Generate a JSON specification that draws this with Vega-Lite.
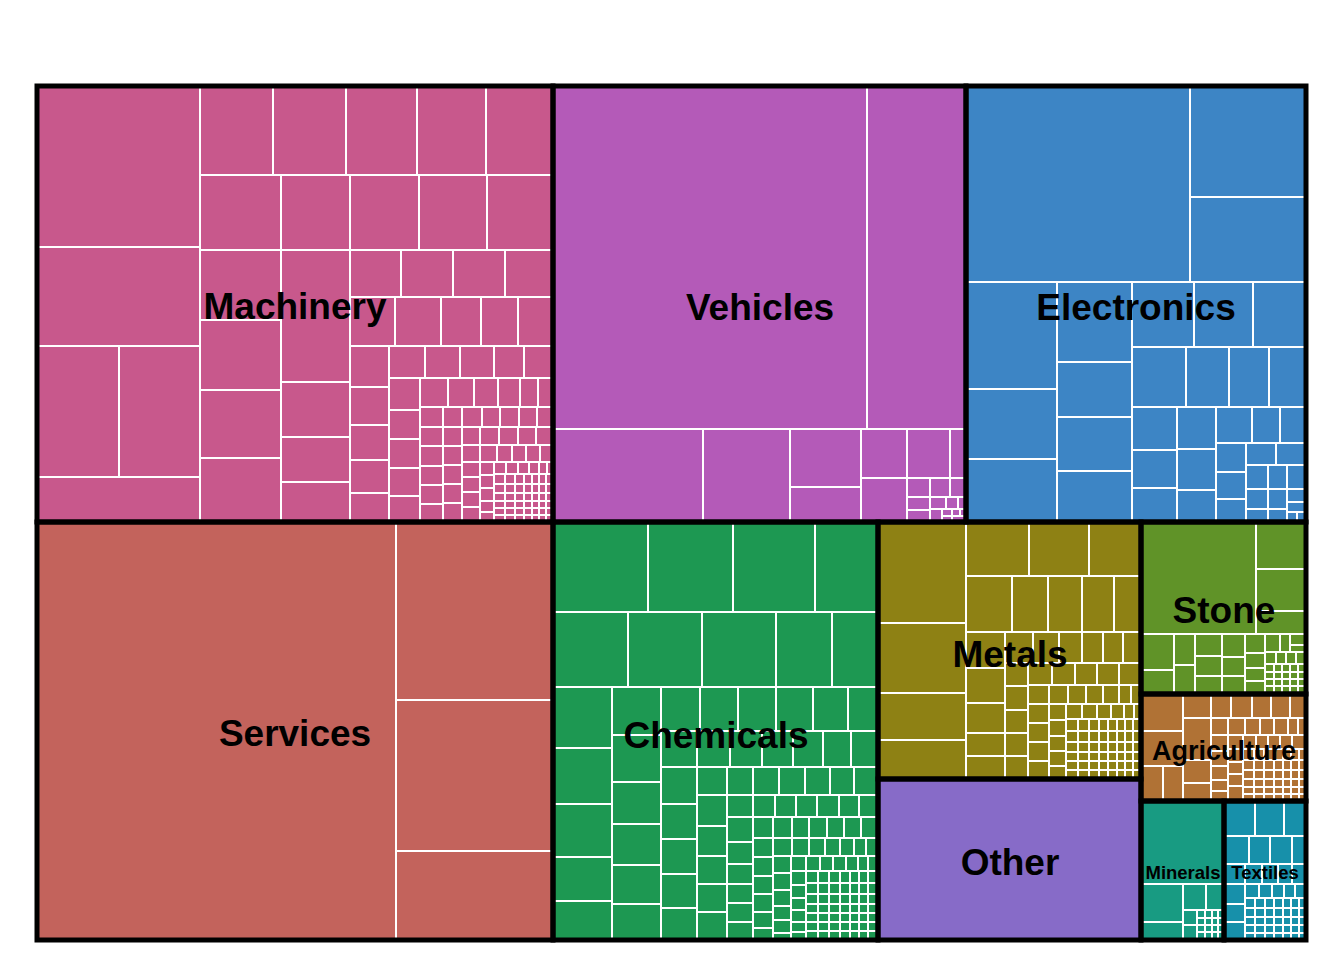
{
"$schema":"https://vega.github.io/schema/vega-lite/v6.json",
"width":1269,"height":854,
"autosize":{"type":"none"},
"padding":{"left":37,"top":86,"right":38,"bottom":20},
"background":"white",
"config":{"view":{"stroke":null}},
"datasets":{
"groups":[
{"name":"Machinery","l":37,"r":553,"t":86,"b":522,"cx":295,"cy":308},
{"name":"Vehicles","l":553,"r":966,"t":86,"b":522,"cx":760,"cy":309},
{"name":"Electronics","l":966,"r":1306,"t":86,"b":522,"cx":1136,"cy":309},
{"name":"Services","l":37,"r":553,"t":522,"b":940,"cx":295,"cy":735},
{"name":"Chemicals","l":553,"r":878,"t":522,"b":940,"cx":716,"cy":737},
{"name":"Metals","l":878,"r":1141,"t":522,"b":779,"cx":1010,"cy":656},
{"name":"Other","l":878,"r":1141,"t":779,"b":940,"cx":1010,"cy":864},
{"name":"Stone","l":1141,"r":1306,"t":522,"b":694,"cx":1224,"cy":612},
{"name":"Agriculture","l":1141,"r":1306,"t":694,"b":801,"cx":1224,"cy":752},
{"name":"Minerals","l":1141,"r":1224,"t":801,"b":940,"cx":1183,"cy":873},
{"name":"Textiles","l":1224,"r":1306,"t":801,"b":940,"cx":1265,"cy":873}
],
"leaves":[
{"g":"Ma","l":37,"r":200,"t":86,"b":247},
{"g":"Ma","l":37,"r":200,"t":247,"b":346},
{"g":"Ma","l":37,"r":119,"t":346,"b":477},
{"g":"Ma","l":119,"r":200,"t":346,"b":477},
{"g":"Ma","l":37,"r":200,"t":477,"b":522},
{"g":"Ma","l":200,"r":273,"t":86,"b":175},
{"g":"Ma","l":273,"r":346,"t":86,"b":175},
{"g":"Ma","l":346,"r":417,"t":86,"b":175},
{"g":"Ma","l":417,"r":486,"t":86,"b":175},
{"g":"Ma","l":486,"r":553,"t":86,"b":175},
{"g":"Ma","l":200,"r":281,"t":175,"b":250},
{"g":"Ma","l":281,"r":350,"t":175,"b":250},
{"g":"Ma","l":350,"r":419,"t":175,"b":250},
{"g":"Ma","l":419,"r":487,"t":175,"b":250},
{"g":"Ma","l":487,"r":553,"t":175,"b":250},
{"g":"Ma","l":200,"r":281,"t":250,"b":320},
{"g":"Ma","l":200,"r":281,"t":320,"b":390},
{"g":"Ma","l":200,"r":281,"t":390,"b":458},
{"g":"Ma","l":200,"r":281,"t":458,"b":522},
{"g":"Ma","l":281,"r":350,"t":250,"b":382},
{"g":"Ma","l":281,"r":350,"t":382,"b":437},
{"g":"Ma","l":281,"r":350,"t":437,"b":482},
{"g":"Ma","l":281,"r":350,"t":482,"b":522},
{"g":"Ma","l":350,"r":401,"t":250,"b":297},
{"g":"Ma","l":401,"r":453,"t":250,"b":297},
{"g":"Ma","l":453,"r":505,"t":250,"b":297},
{"g":"Ma","l":505,"r":553,"t":250,"b":297},
{"g":"Ma","l":350,"r":395,"t":297,"b":346},
{"g":"Ma","l":395,"r":441,"t":297,"b":346},
{"g":"Ma","l":441,"r":481,"t":297,"b":346},
{"g":"Ma","l":481,"r":518,"t":297,"b":346},
{"g":"Ma","l":518,"r":553,"t":297,"b":346},
{"g":"Ma","l":350,"r":389,"t":346,"b":387},
{"g":"Ma","l":350,"r":389,"t":387,"b":425},
{"g":"Ma","l":350,"r":389,"t":425,"b":460},
{"g":"Ma","l":350,"r":389,"t":460,"b":493},
{"g":"Ma","l":350,"r":389,"t":493,"b":522},
{"g":"Ma","l":389,"r":425,"t":346,"b":378},
{"g":"Ma","l":425,"r":460,"t":346,"b":378},
{"g":"Ma","l":460,"r":494,"t":346,"b":378},
{"g":"Ma","l":494,"r":524,"t":346,"b":378},
{"g":"Ma","l":524,"r":553,"t":346,"b":378},
{"g":"Ma","l":389,"r":420,"t":378,"b":410},
{"g":"Ma","l":389,"r":420,"t":410,"b":439},
{"g":"Ma","l":389,"r":420,"t":439,"b":468},
{"g":"Ma","l":389,"r":420,"t":468,"b":496},
{"g":"Ma","l":389,"r":420,"t":496,"b":522},
{"g":"Ma","l":420,"r":448,"t":378,"b":407},
{"g":"Ma","l":448,"r":474,"t":378,"b":407},
{"g":"Ma","l":474,"r":498,"t":378,"b":407},
{"g":"Ma","l":498,"r":520,"t":378,"b":407},
{"g":"Ma","l":520,"r":538,"t":378,"b":407},
{"g":"Ma","l":538,"r":553,"t":378,"b":407},
{"g":"Ma","l":420,"r":443,"t":407,"b":427},
{"g":"Ma","l":420,"r":443,"t":427,"b":446},
{"g":"Ma","l":420,"r":443,"t":446,"b":466},
{"g":"Ma","l":420,"r":443,"t":466,"b":485},
{"g":"Ma","l":420,"r":443,"t":485,"b":504},
{"g":"Ma","l":420,"r":443,"t":504,"b":522},
{"g":"Ma","l":443,"r":462,"t":407,"b":427},
{"g":"Ma","l":462,"r":482,"t":407,"b":427},
{"g":"Ma","l":482,"r":500,"t":407,"b":427},
{"g":"Ma","l":500,"r":519,"t":407,"b":427},
{"g":"Ma","l":519,"r":537,"t":407,"b":427},
{"g":"Ma","l":537,"r":553,"t":407,"b":427},
{"g":"Ma","l":443,"r":462,"t":427,"b":446},
{"g":"Ma","l":443,"r":462,"t":446,"b":465},
{"g":"Ma","l":443,"r":462,"t":465,"b":484},
{"g":"Ma","l":443,"r":462,"t":484,"b":503},
{"g":"Ma","l":443,"r":462,"t":503,"b":522},
{"g":"Ma","l":462,"r":480,"t":427,"b":445},
{"g":"Ma","l":480,"r":499,"t":427,"b":445},
{"g":"Ma","l":499,"r":518,"t":427,"b":445},
{"g":"Ma","l":518,"r":536,"t":427,"b":445},
{"g":"Ma","l":536,"r":553,"t":427,"b":445},
{"g":"Ma","l":462,"r":480,"t":445,"b":462},
{"g":"Ma","l":462,"r":480,"t":462,"b":477},
{"g":"Ma","l":462,"r":480,"t":477,"b":492},
{"g":"Ma","l":462,"r":480,"t":492,"b":507},
{"g":"Ma","l":462,"r":480,"t":507,"b":522},
{"g":"Ma","l":480,"r":497,"t":445,"b":462},
{"g":"Ma","l":497,"r":512,"t":445,"b":462},
{"g":"Ma","l":512,"r":526,"t":445,"b":462},
{"g":"Ma","l":526,"r":540,"t":445,"b":462},
{"g":"Ma","l":540,"r":553,"t":445,"b":462},
{"g":"Ma","l":480,"r":494,"t":462,"b":475},
{"g":"Ma","l":480,"r":494,"t":475,"b":488},
{"g":"Ma","l":480,"r":494,"t":488,"b":501},
{"g":"Ma","l":480,"r":494,"t":501,"b":512},
{"g":"Ma","l":480,"r":494,"t":512,"b":522},
{"g":"Ma","l":494,"r":506,"t":462,"b":474},
{"g":"Ma","l":506,"r":518,"t":462,"b":474},
{"g":"Ma","l":518,"r":529,"t":462,"b":474},
{"g":"Ma","l":529,"r":539,"t":462,"b":474},
{"g":"Ma","l":539,"r":547,"t":462,"b":474},
{"g":"Ma","l":547,"r":553,"t":462,"b":474},
{"g":"Ma","l":494,"r":505,"t":474,"b":484},{"g":"Ma","l":505,"r":515,"t":474,"b":484},{"g":"Ma","l":515,"r":524,"t":474,"b":484},{"g":"Ma","l":524,"r":532,"t":474,"b":484},{"g":"Ma","l":532,"r":539,"t":474,"b":484},{"g":"Ma","l":539,"r":546,"t":474,"b":484},{"g":"Ma","l":546,"r":553,"t":474,"b":484},
{"g":"Ma","l":494,"r":505,"t":484,"b":493},{"g":"Ma","l":505,"r":515,"t":484,"b":493},{"g":"Ma","l":515,"r":524,"t":484,"b":493},{"g":"Ma","l":524,"r":532,"t":484,"b":493},{"g":"Ma","l":532,"r":539,"t":484,"b":493},{"g":"Ma","l":539,"r":546,"t":484,"b":493},{"g":"Ma","l":546,"r":553,"t":484,"b":493},
{"g":"Ma","l":494,"r":505,"t":493,"b":501},{"g":"Ma","l":505,"r":515,"t":493,"b":501},{"g":"Ma","l":515,"r":524,"t":493,"b":501},{"g":"Ma","l":524,"r":532,"t":493,"b":501},{"g":"Ma","l":532,"r":539,"t":493,"b":501},{"g":"Ma","l":539,"r":546,"t":493,"b":501},{"g":"Ma","l":546,"r":553,"t":493,"b":501},
{"g":"Ma","l":494,"r":505,"t":501,"b":508},{"g":"Ma","l":505,"r":515,"t":501,"b":508},{"g":"Ma","l":515,"r":524,"t":501,"b":508},{"g":"Ma","l":524,"r":532,"t":501,"b":508},{"g":"Ma","l":532,"r":539,"t":501,"b":508},{"g":"Ma","l":539,"r":546,"t":501,"b":508},{"g":"Ma","l":546,"r":553,"t":501,"b":508},
{"g":"Ma","l":494,"r":505,"t":508,"b":515},{"g":"Ma","l":505,"r":515,"t":508,"b":515},{"g":"Ma","l":515,"r":524,"t":508,"b":515},{"g":"Ma","l":524,"r":532,"t":508,"b":515},{"g":"Ma","l":532,"r":539,"t":508,"b":515},{"g":"Ma","l":539,"r":546,"t":508,"b":515},{"g":"Ma","l":546,"r":553,"t":508,"b":515},
{"g":"Ma","l":494,"r":505,"t":515,"b":522},{"g":"Ma","l":505,"r":515,"t":515,"b":522},{"g":"Ma","l":515,"r":524,"t":515,"b":522},{"g":"Ma","l":524,"r":532,"t":515,"b":522},{"g":"Ma","l":532,"r":539,"t":515,"b":522},{"g":"Ma","l":539,"r":546,"t":515,"b":522},{"g":"Ma","l":546,"r":553,"t":515,"b":522},
{"g":"Ve","l":553,"r":867,"t":86,"b":429},
{"g":"Ve","l":867,"r":966,"t":86,"b":429},
{"g":"Ve","l":553,"r":703,"t":429,"b":522},
{"g":"Ve","l":703,"r":790,"t":429,"b":522},
{"g":"Ve","l":790,"r":861,"t":429,"b":487},
{"g":"Ve","l":790,"r":861,"t":487,"b":522},
{"g":"Ve","l":861,"r":907,"t":429,"b":478},
{"g":"Ve","l":861,"r":907,"t":478,"b":522},
{"g":"Ve","l":907,"r":950,"t":429,"b":478},
{"g":"Ve","l":950,"r":966,"t":429,"b":478},
{"g":"Ve","l":907,"r":930,"t":478,"b":497},
{"g":"Ve","l":930,"r":950,"t":478,"b":497},
{"g":"Ve","l":950,"r":966,"t":478,"b":497},
{"g":"Ve","l":907,"r":930,"t":497,"b":510},
{"g":"Ve","l":907,"r":930,"t":510,"b":522},
{"g":"Ve","l":930,"r":946,"t":497,"b":509},
{"g":"Ve","l":946,"r":958,"t":497,"b":509},
{"g":"Ve","l":958,"r":966,"t":497,"b":509},
{"g":"Ve","l":930,"r":942,"t":509,"b":522},
{"g":"Ve","l":942,"r":952,"t":509,"b":516},
{"g":"Ve","l":952,"r":960,"t":509,"b":516},
{"g":"Ve","l":960,"r":966,"t":509,"b":516},
{"g":"Ve","l":942,"r":952,"t":516,"b":522},
{"g":"Ve","l":952,"r":966,"t":516,"b":522},
{"g":"El","l":966,"r":1190,"t":86,"b":282},
{"g":"El","l":1190,"r":1306,"t":86,"b":197},
{"g":"El","l":1190,"r":1306,"t":197,"b":282},
{"g":"El","l":966,"r":1057,"t":282,"b":389},
{"g":"El","l":966,"r":1057,"t":389,"b":459},
{"g":"El","l":966,"r":1057,"t":459,"b":522},
{"g":"El","l":1057,"r":1132,"t":282,"b":362},
{"g":"El","l":1057,"r":1132,"t":362,"b":417},
{"g":"El","l":1057,"r":1132,"t":417,"b":471},
{"g":"El","l":1057,"r":1132,"t":471,"b":522},
{"g":"El","l":1132,"r":1194,"t":282,"b":347},
{"g":"El","l":1194,"r":1253,"t":282,"b":347},
{"g":"El","l":1253,"r":1306,"t":282,"b":347},
{"g":"El","l":1132,"r":1186,"t":347,"b":407},
{"g":"El","l":1186,"r":1229,"t":347,"b":407},
{"g":"El","l":1229,"r":1269,"t":347,"b":407},
{"g":"El","l":1269,"r":1306,"t":347,"b":407},
{"g":"El","l":1132,"r":1177,"t":407,"b":450},
{"g":"El","l":1132,"r":1177,"t":450,"b":488},
{"g":"El","l":1132,"r":1177,"t":488,"b":522},
{"g":"El","l":1177,"r":1216,"t":407,"b":449},
{"g":"El","l":1177,"r":1216,"t":449,"b":490},
{"g":"El","l":1177,"r":1216,"t":490,"b":522},
{"g":"El","l":1216,"r":1252,"t":407,"b":443},
{"g":"El","l":1252,"r":1280,"t":407,"b":443},
{"g":"El","l":1280,"r":1306,"t":407,"b":443},
{"g":"El","l":1216,"r":1246,"t":443,"b":472},
{"g":"El","l":1216,"r":1246,"t":472,"b":499},
{"g":"El","l":1216,"r":1246,"t":499,"b":522},
{"g":"El","l":1246,"r":1276,"t":443,"b":465},
{"g":"El","l":1276,"r":1306,"t":443,"b":465},
{"g":"El","l":1246,"r":1268,"t":465,"b":489},
{"g":"El","l":1246,"r":1268,"t":489,"b":509},
{"g":"El","l":1246,"r":1268,"t":509,"b":522},
{"g":"El","l":1268,"r":1287,"t":465,"b":489},
{"g":"El","l":1268,"r":1287,"t":489,"b":509},
{"g":"El","l":1268,"r":1287,"t":509,"b":522},
{"g":"El","l":1287,"r":1306,"t":465,"b":489},
{"g":"El","l":1287,"r":1306,"t":489,"b":502},
{"g":"El","l":1287,"r":1306,"t":502,"b":512},
{"g":"El","l":1287,"r":1297,"t":512,"b":522},
{"g":"El","l":1297,"r":1306,"t":512,"b":522},
{"g":"Se","l":37,"r":396,"t":522,"b":940},
{"g":"Se","l":396,"r":553,"t":522,"b":700},
{"g":"Se","l":396,"r":553,"t":700,"b":851},
{"g":"Se","l":396,"r":553,"t":851,"b":940},
{"g":"Ch","l":553,"r":648,"t":522,"b":612},
{"g":"Ch","l":648,"r":733,"t":522,"b":612},
{"g":"Ch","l":733,"r":815,"t":522,"b":612},
{"g":"Ch","l":815,"r":878,"t":522,"b":612},
{"g":"Ch","l":553,"r":628,"t":612,"b":687},
{"g":"Ch","l":628,"r":702,"t":612,"b":687},
{"g":"Ch","l":702,"r":776,"t":612,"b":687},
{"g":"Ch","l":776,"r":832,"t":612,"b":687},
{"g":"Ch","l":832,"r":878,"t":612,"b":687},
{"g":"Ch","l":553,"r":612,"t":687,"b":748},
{"g":"Ch","l":553,"r":612,"t":748,"b":804},
{"g":"Ch","l":553,"r":612,"t":804,"b":857},
{"g":"Ch","l":553,"r":612,"t":857,"b":901},
{"g":"Ch","l":553,"r":612,"t":901,"b":940},
{"g":"Ch","l":612,"r":661,"t":687,"b":735},
{"g":"Ch","l":612,"r":661,"t":735,"b":782},
{"g":"Ch","l":612,"r":661,"t":782,"b":824},
{"g":"Ch","l":612,"r":661,"t":824,"b":865},
{"g":"Ch","l":612,"r":661,"t":865,"b":904},
{"g":"Ch","l":612,"r":661,"t":904,"b":940},
{"g":"Ch","l":661,"r":700,"t":687,"b":731},
{"g":"Ch","l":700,"r":738,"t":687,"b":731},
{"g":"Ch","l":738,"r":776,"t":687,"b":731},
{"g":"Ch","l":776,"r":813,"t":687,"b":731},
{"g":"Ch","l":813,"r":848,"t":687,"b":731},
{"g":"Ch","l":848,"r":878,"t":687,"b":731},
{"g":"Ch","l":661,"r":697,"t":731,"b":767},
{"g":"Ch","l":697,"r":730,"t":731,"b":767},
{"g":"Ch","l":730,"r":762,"t":731,"b":767},
{"g":"Ch","l":762,"r":793,"t":731,"b":767},
{"g":"Ch","l":793,"r":823,"t":731,"b":767},
{"g":"Ch","l":823,"r":851,"t":731,"b":767},
{"g":"Ch","l":851,"r":878,"t":731,"b":767},
{"g":"Ch","l":661,"r":697,"t":767,"b":804},
{"g":"Ch","l":661,"r":697,"t":804,"b":839},
{"g":"Ch","l":661,"r":697,"t":839,"b":874},
{"g":"Ch","l":661,"r":697,"t":874,"b":908},
{"g":"Ch","l":661,"r":697,"t":908,"b":940},
{"g":"Ch","l":697,"r":727,"t":767,"b":795},
{"g":"Ch","l":727,"r":753,"t":767,"b":795},
{"g":"Ch","l":753,"r":779,"t":767,"b":795},
{"g":"Ch","l":779,"r":805,"t":767,"b":795},
{"g":"Ch","l":805,"r":830,"t":767,"b":795},
{"g":"Ch","l":830,"r":854,"t":767,"b":795},
{"g":"Ch","l":854,"r":878,"t":767,"b":795},
{"g":"Ch","l":697,"r":727,"t":795,"b":826},
{"g":"Ch","l":697,"r":727,"t":826,"b":856},
{"g":"Ch","l":697,"r":727,"t":856,"b":884},
{"g":"Ch","l":697,"r":727,"t":884,"b":912},
{"g":"Ch","l":697,"r":727,"t":912,"b":940},
{"g":"Ch","l":727,"r":753,"t":795,"b":817},
{"g":"Ch","l":753,"r":775,"t":795,"b":817},
{"g":"Ch","l":775,"r":796,"t":795,"b":817},
{"g":"Ch","l":796,"r":817,"t":795,"b":817},
{"g":"Ch","l":817,"r":839,"t":795,"b":817},
{"g":"Ch","l":839,"r":859,"t":795,"b":817},
{"g":"Ch","l":859,"r":878,"t":795,"b":817},
{"g":"Ch","l":727,"r":753,"t":817,"b":842},
{"g":"Ch","l":727,"r":753,"t":842,"b":864},
{"g":"Ch","l":727,"r":753,"t":864,"b":884},
{"g":"Ch","l":727,"r":753,"t":884,"b":903},
{"g":"Ch","l":727,"r":753,"t":903,"b":922},
{"g":"Ch","l":727,"r":753,"t":922,"b":940},
{"g":"Ch","l":753,"r":773,"t":817,"b":838},
{"g":"Ch","l":773,"r":792,"t":817,"b":838},
{"g":"Ch","l":792,"r":809,"t":817,"b":838},
{"g":"Ch","l":809,"r":827,"t":817,"b":838},
{"g":"Ch","l":827,"r":844,"t":817,"b":838},
{"g":"Ch","l":844,"r":861,"t":817,"b":838},
{"g":"Ch","l":861,"r":878,"t":817,"b":838},
{"g":"Ch","l":753,"r":773,"t":838,"b":857},
{"g":"Ch","l":753,"r":773,"t":857,"b":876},
{"g":"Ch","l":753,"r":773,"t":876,"b":894},
{"g":"Ch","l":753,"r":773,"t":894,"b":912},
{"g":"Ch","l":753,"r":773,"t":912,"b":928},
{"g":"Ch","l":753,"r":773,"t":928,"b":940},
{"g":"Ch","l":773,"r":792,"t":838,"b":856},
{"g":"Ch","l":792,"r":809,"t":838,"b":856},
{"g":"Ch","l":809,"r":825,"t":838,"b":856},
{"g":"Ch","l":825,"r":840,"t":838,"b":856},
{"g":"Ch","l":840,"r":854,"t":838,"b":856},
{"g":"Ch","l":854,"r":866,"t":838,"b":856},
{"g":"Ch","l":866,"r":878,"t":838,"b":856},
{"g":"Ch","l":773,"r":791,"t":856,"b":873},
{"g":"Ch","l":773,"r":791,"t":873,"b":890},
{"g":"Ch","l":773,"r":791,"t":890,"b":906},
{"g":"Ch","l":773,"r":791,"t":906,"b":920},
{"g":"Ch","l":773,"r":791,"t":920,"b":933},
{"g":"Ch","l":773,"r":791,"t":933,"b":940},
{"g":"Ch","l":791,"r":806,"t":856,"b":871},
{"g":"Ch","l":806,"r":820,"t":856,"b":871},
{"g":"Ch","l":820,"r":833,"t":856,"b":871},
{"g":"Ch","l":833,"r":846,"t":856,"b":871},
{"g":"Ch","l":846,"r":858,"t":856,"b":871},
{"g":"Ch","l":858,"r":868,"t":856,"b":871},
{"g":"Ch","l":868,"r":878,"t":856,"b":871},
{"g":"Ch","l":791,"r":806,"t":871,"b":885},
{"g":"Ch","l":791,"r":806,"t":885,"b":898},
{"g":"Ch","l":791,"r":806,"t":898,"b":910},
{"g":"Ch","l":791,"r":806,"t":910,"b":922},
{"g":"Ch","l":791,"r":806,"t":922,"b":932},
{"g":"Ch","l":791,"r":806,"t":932,"b":940},
{"g":"Ch","l":806,"r":818,"t":871,"b":883},{"g":"Ch","l":818,"r":829,"t":871,"b":883},{"g":"Ch","l":829,"r":840,"t":871,"b":883},{"g":"Ch","l":840,"r":850,"t":871,"b":883},{"g":"Ch","l":850,"r":859,"t":871,"b":883},{"g":"Ch","l":859,"r":868,"t":871,"b":883},{"g":"Ch","l":868,"r":878,"t":871,"b":883},
{"g":"Ch","l":806,"r":818,"t":883,"b":894},{"g":"Ch","l":818,"r":829,"t":883,"b":894},{"g":"Ch","l":829,"r":840,"t":883,"b":894},{"g":"Ch","l":840,"r":850,"t":883,"b":894},{"g":"Ch","l":850,"r":859,"t":883,"b":894},{"g":"Ch","l":859,"r":868,"t":883,"b":894},{"g":"Ch","l":868,"r":878,"t":883,"b":894},
{"g":"Ch","l":806,"r":818,"t":894,"b":904},{"g":"Ch","l":818,"r":829,"t":894,"b":904},{"g":"Ch","l":829,"r":840,"t":894,"b":904},{"g":"Ch","l":840,"r":850,"t":894,"b":904},{"g":"Ch","l":850,"r":859,"t":894,"b":904},{"g":"Ch","l":859,"r":868,"t":894,"b":904},{"g":"Ch","l":868,"r":878,"t":894,"b":904},
{"g":"Ch","l":806,"r":818,"t":904,"b":913},{"g":"Ch","l":818,"r":829,"t":904,"b":913},{"g":"Ch","l":829,"r":840,"t":904,"b":913},{"g":"Ch","l":840,"r":850,"t":904,"b":913},{"g":"Ch","l":850,"r":859,"t":904,"b":913},{"g":"Ch","l":859,"r":868,"t":904,"b":913},{"g":"Ch","l":868,"r":878,"t":904,"b":913},
{"g":"Ch","l":806,"r":818,"t":913,"b":922},{"g":"Ch","l":818,"r":829,"t":913,"b":922},{"g":"Ch","l":829,"r":840,"t":913,"b":922},{"g":"Ch","l":840,"r":850,"t":913,"b":922},{"g":"Ch","l":850,"r":859,"t":913,"b":922},{"g":"Ch","l":859,"r":868,"t":913,"b":922},{"g":"Ch","l":868,"r":878,"t":913,"b":922},
{"g":"Ch","l":806,"r":818,"t":922,"b":931},{"g":"Ch","l":818,"r":829,"t":922,"b":931},{"g":"Ch","l":829,"r":840,"t":922,"b":931},{"g":"Ch","l":840,"r":850,"t":922,"b":931},{"g":"Ch","l":850,"r":859,"t":922,"b":931},{"g":"Ch","l":859,"r":868,"t":922,"b":931},{"g":"Ch","l":868,"r":878,"t":922,"b":931},
{"g":"Ch","l":806,"r":818,"t":931,"b":940},{"g":"Ch","l":818,"r":829,"t":931,"b":940},{"g":"Ch","l":829,"r":840,"t":931,"b":940},{"g":"Ch","l":840,"r":850,"t":931,"b":940},{"g":"Ch","l":850,"r":859,"t":931,"b":940},{"g":"Ch","l":859,"r":868,"t":931,"b":940},{"g":"Ch","l":868,"r":878,"t":931,"b":940},
{"g":"Me","l":878,"r":966,"t":522,"b":623},
{"g":"Me","l":878,"r":966,"t":623,"b":693},
{"g":"Me","l":878,"r":966,"t":693,"b":740},
{"g":"Me","l":878,"r":966,"t":740,"b":779},
{"g":"Me","l":966,"r":1029,"t":522,"b":576},
{"g":"Me","l":1029,"r":1089,"t":522,"b":576},
{"g":"Me","l":1089,"r":1141,"t":522,"b":576},
{"g":"Me","l":966,"r":1012,"t":576,"b":632},
{"g":"Me","l":1012,"r":1048,"t":576,"b":632},
{"g":"Me","l":1048,"r":1082,"t":576,"b":632},
{"g":"Me","l":1082,"r":1114,"t":576,"b":632},
{"g":"Me","l":1114,"r":1141,"t":576,"b":632},
{"g":"Me","l":966,"r":1005,"t":632,"b":668},
{"g":"Me","l":966,"r":1005,"t":668,"b":703},
{"g":"Me","l":966,"r":1005,"t":703,"b":733},
{"g":"Me","l":966,"r":1005,"t":733,"b":756},
{"g":"Me","l":966,"r":1005,"t":756,"b":779},
{"g":"Me","l":1005,"r":1033,"t":632,"b":663},
{"g":"Me","l":1033,"r":1059,"t":632,"b":663},
{"g":"Me","l":1059,"r":1082,"t":632,"b":663},
{"g":"Me","l":1082,"r":1103,"t":632,"b":663},
{"g":"Me","l":1103,"r":1123,"t":632,"b":663},
{"g":"Me","l":1123,"r":1141,"t":632,"b":663},
{"g":"Me","l":1005,"r":1028,"t":663,"b":686},
{"g":"Me","l":1005,"r":1028,"t":686,"b":710},
{"g":"Me","l":1005,"r":1028,"t":710,"b":733},
{"g":"Me","l":1005,"r":1028,"t":733,"b":756},
{"g":"Me","l":1005,"r":1028,"t":756,"b":779},
{"g":"Me","l":1028,"r":1052,"t":663,"b":685},
{"g":"Me","l":1052,"r":1075,"t":663,"b":685},
{"g":"Me","l":1075,"r":1097,"t":663,"b":685},
{"g":"Me","l":1097,"r":1119,"t":663,"b":685},
{"g":"Me","l":1119,"r":1141,"t":663,"b":685},
{"g":"Me","l":1028,"r":1049,"t":685,"b":704},
{"g":"Me","l":1028,"r":1049,"t":704,"b":723},
{"g":"Me","l":1028,"r":1049,"t":723,"b":742},
{"g":"Me","l":1028,"r":1049,"t":742,"b":761},
{"g":"Me","l":1028,"r":1049,"t":761,"b":779},
{"g":"Me","l":1049,"r":1068,"t":685,"b":704},
{"g":"Me","l":1068,"r":1086,"t":685,"b":704},
{"g":"Me","l":1086,"r":1103,"t":685,"b":704},
{"g":"Me","l":1103,"r":1119,"t":685,"b":704},
{"g":"Me","l":1119,"r":1131,"t":685,"b":704},
{"g":"Me","l":1131,"r":1141,"t":685,"b":704},
{"g":"Me","l":1049,"r":1066,"t":704,"b":720},
{"g":"Me","l":1049,"r":1066,"t":720,"b":736},
{"g":"Me","l":1049,"r":1066,"t":736,"b":751},
{"g":"Me","l":1049,"r":1066,"t":751,"b":766},
{"g":"Me","l":1049,"r":1066,"t":766,"b":779},
{"g":"Me","l":1066,"r":1082,"t":704,"b":719},
{"g":"Me","l":1082,"r":1097,"t":704,"b":719},
{"g":"Me","l":1097,"r":1111,"t":704,"b":719},
{"g":"Me","l":1111,"r":1124,"t":704,"b":719},
{"g":"Me","l":1124,"r":1134,"t":704,"b":719},
{"g":"Me","l":1134,"r":1141,"t":704,"b":719},
{"g":"Me","l":1066,"r":1078,"t":719,"b":731},{"g":"Me","l":1078,"r":1089,"t":719,"b":731},{"g":"Me","l":1089,"r":1099,"t":719,"b":731},{"g":"Me","l":1099,"r":1108,"t":719,"b":731},{"g":"Me","l":1108,"r":1117,"t":719,"b":731},{"g":"Me","l":1117,"r":1125,"t":719,"b":731},{"g":"Me","l":1125,"r":1133,"t":719,"b":731},{"g":"Me","l":1133,"r":1141,"t":719,"b":731},
{"g":"Me","l":1066,"r":1078,"t":731,"b":742},{"g":"Me","l":1078,"r":1089,"t":731,"b":742},{"g":"Me","l":1089,"r":1099,"t":731,"b":742},{"g":"Me","l":1099,"r":1108,"t":731,"b":742},{"g":"Me","l":1108,"r":1117,"t":731,"b":742},{"g":"Me","l":1117,"r":1125,"t":731,"b":742},{"g":"Me","l":1125,"r":1133,"t":731,"b":742},{"g":"Me","l":1133,"r":1141,"t":731,"b":742},
{"g":"Me","l":1066,"r":1078,"t":742,"b":752},{"g":"Me","l":1078,"r":1089,"t":742,"b":752},{"g":"Me","l":1089,"r":1099,"t":742,"b":752},{"g":"Me","l":1099,"r":1108,"t":742,"b":752},{"g":"Me","l":1108,"r":1117,"t":742,"b":752},{"g":"Me","l":1117,"r":1125,"t":742,"b":752},{"g":"Me","l":1125,"r":1133,"t":742,"b":752},{"g":"Me","l":1133,"r":1141,"t":742,"b":752},
{"g":"Me","l":1066,"r":1078,"t":752,"b":761},{"g":"Me","l":1078,"r":1089,"t":752,"b":761},{"g":"Me","l":1089,"r":1099,"t":752,"b":761},{"g":"Me","l":1099,"r":1108,"t":752,"b":761},{"g":"Me","l":1108,"r":1117,"t":752,"b":761},{"g":"Me","l":1117,"r":1125,"t":752,"b":761},{"g":"Me","l":1125,"r":1133,"t":752,"b":761},{"g":"Me","l":1133,"r":1141,"t":752,"b":761},
{"g":"Me","l":1066,"r":1078,"t":761,"b":770},{"g":"Me","l":1078,"r":1089,"t":761,"b":770},{"g":"Me","l":1089,"r":1099,"t":761,"b":770},{"g":"Me","l":1099,"r":1108,"t":761,"b":770},{"g":"Me","l":1108,"r":1117,"t":761,"b":770},{"g":"Me","l":1117,"r":1125,"t":761,"b":770},{"g":"Me","l":1125,"r":1133,"t":761,"b":770},{"g":"Me","l":1133,"r":1141,"t":761,"b":770},
{"g":"Me","l":1066,"r":1078,"t":770,"b":779},{"g":"Me","l":1078,"r":1089,"t":770,"b":779},{"g":"Me","l":1089,"r":1099,"t":770,"b":779},{"g":"Me","l":1099,"r":1108,"t":770,"b":779},{"g":"Me","l":1108,"r":1117,"t":770,"b":779},{"g":"Me","l":1117,"r":1125,"t":770,"b":779},{"g":"Me","l":1125,"r":1133,"t":770,"b":779},{"g":"Me","l":1133,"r":1141,"t":770,"b":779},
{"g":"Ot","l":878,"r":1141,"t":779,"b":940},
{"g":"St","l":1141,"r":1256,"t":522,"b":634},
{"g":"St","l":1256,"r":1306,"t":522,"b":569},
{"g":"St","l":1256,"r":1306,"t":569,"b":611},
{"g":"St","l":1256,"r":1306,"t":611,"b":634},
{"g":"St","l":1141,"r":1174,"t":634,"b":670},
{"g":"St","l":1141,"r":1174,"t":670,"b":694},
{"g":"St","l":1174,"r":1195,"t":634,"b":665},
{"g":"St","l":1174,"r":1195,"t":665,"b":694},
{"g":"St","l":1195,"r":1222,"t":634,"b":656},
{"g":"St","l":1195,"r":1222,"t":656,"b":676},
{"g":"St","l":1195,"r":1222,"t":676,"b":694},
{"g":"St","l":1222,"r":1245,"t":634,"b":657},
{"g":"St","l":1222,"r":1245,"t":657,"b":676},
{"g":"St","l":1222,"r":1245,"t":676,"b":694},
{"g":"St","l":1245,"r":1265,"t":634,"b":653},
{"g":"St","l":1245,"r":1265,"t":653,"b":668},
{"g":"St","l":1245,"r":1265,"t":668,"b":681},
{"g":"St","l":1245,"r":1265,"t":681,"b":694},
{"g":"St","l":1265,"r":1280,"t":634,"b":652},
{"g":"St","l":1280,"r":1290,"t":634,"b":652},
{"g":"St","l":1290,"r":1306,"t":634,"b":645},
{"g":"St","l":1290,"r":1306,"t":645,"b":652},
{"g":"St","l":1265,"r":1276,"t":652,"b":664},
{"g":"St","l":1276,"r":1286,"t":652,"b":664},
{"g":"St","l":1286,"r":1296,"t":652,"b":664},
{"g":"St","l":1296,"r":1306,"t":652,"b":664},
{"g":"St","l":1265,"r":1274,"t":664,"b":672},{"g":"St","l":1274,"r":1282,"t":664,"b":672},{"g":"St","l":1282,"r":1290,"t":664,"b":672},{"g":"St","l":1290,"r":1298,"t":664,"b":672},{"g":"St","l":1298,"r":1306,"t":664,"b":672},
{"g":"St","l":1265,"r":1274,"t":672,"b":679},{"g":"St","l":1274,"r":1282,"t":672,"b":679},{"g":"St","l":1282,"r":1290,"t":672,"b":679},{"g":"St","l":1290,"r":1298,"t":672,"b":679},{"g":"St","l":1298,"r":1306,"t":672,"b":679},
{"g":"St","l":1265,"r":1274,"t":679,"b":686},{"g":"St","l":1274,"r":1282,"t":679,"b":686},{"g":"St","l":1282,"r":1290,"t":679,"b":686},{"g":"St","l":1290,"r":1298,"t":679,"b":686},{"g":"St","l":1298,"r":1306,"t":679,"b":686},
{"g":"St","l":1265,"r":1274,"t":686,"b":694},{"g":"St","l":1274,"r":1282,"t":686,"b":694},{"g":"St","l":1282,"r":1290,"t":686,"b":694},{"g":"St","l":1290,"r":1298,"t":686,"b":694},{"g":"St","l":1298,"r":1306,"t":686,"b":694},
{"g":"Ag","l":1141,"r":1183,"t":694,"b":731},
{"g":"Ag","l":1141,"r":1183,"t":731,"b":766},
{"g":"Ag","l":1141,"r":1163,"t":766,"b":801},
{"g":"Ag","l":1163,"r":1183,"t":766,"b":801},
{"g":"Ag","l":1183,"r":1211,"t":694,"b":718},
{"g":"Ag","l":1211,"r":1231,"t":694,"b":718},
{"g":"Ag","l":1231,"r":1252,"t":694,"b":718},
{"g":"Ag","l":1252,"r":1271,"t":694,"b":718},
{"g":"Ag","l":1271,"r":1290,"t":694,"b":718},
{"g":"Ag","l":1290,"r":1306,"t":694,"b":718},
{"g":"Ag","l":1183,"r":1211,"t":718,"b":760},
{"g":"Ag","l":1183,"r":1211,"t":760,"b":783},
{"g":"Ag","l":1183,"r":1211,"t":783,"b":801},
{"g":"Ag","l":1211,"r":1228,"t":718,"b":735},
{"g":"Ag","l":1228,"r":1245,"t":718,"b":735},
{"g":"Ag","l":1245,"r":1260,"t":718,"b":735},
{"g":"Ag","l":1260,"r":1274,"t":718,"b":735},
{"g":"Ag","l":1274,"r":1288,"t":718,"b":735},
{"g":"Ag","l":1288,"r":1298,"t":718,"b":735},
{"g":"Ag","l":1298,"r":1306,"t":718,"b":735},
{"g":"Ag","l":1211,"r":1228,"t":735,"b":751},
{"g":"Ag","l":1211,"r":1228,"t":751,"b":766},
{"g":"Ag","l":1211,"r":1228,"t":766,"b":780},
{"g":"Ag","l":1211,"r":1228,"t":780,"b":791},
{"g":"Ag","l":1211,"r":1228,"t":791,"b":801},
{"g":"Ag","l":1228,"r":1243,"t":735,"b":749},
{"g":"Ag","l":1243,"r":1256,"t":735,"b":749},
{"g":"Ag","l":1256,"r":1268,"t":735,"b":749},
{"g":"Ag","l":1268,"r":1280,"t":735,"b":749},
{"g":"Ag","l":1280,"r":1292,"t":735,"b":749},
{"g":"Ag","l":1292,"r":1306,"t":735,"b":749},
{"g":"Ag","l":1228,"r":1243,"t":749,"b":762},
{"g":"Ag","l":1228,"r":1243,"t":762,"b":774},
{"g":"Ag","l":1228,"r":1243,"t":774,"b":786},
{"g":"Ag","l":1228,"r":1243,"t":786,"b":801},
{"g":"Ag","l":1243,"r":1254,"t":749,"b":760},{"g":"Ag","l":1254,"r":1264,"t":749,"b":760},{"g":"Ag","l":1264,"r":1274,"t":749,"b":760},{"g":"Ag","l":1274,"r":1283,"t":749,"b":760},{"g":"Ag","l":1283,"r":1291,"t":749,"b":760},{"g":"Ag","l":1291,"r":1299,"t":749,"b":760},{"g":"Ag","l":1299,"r":1306,"t":749,"b":760},
{"g":"Ag","l":1243,"r":1254,"t":760,"b":770},{"g":"Ag","l":1254,"r":1264,"t":760,"b":770},{"g":"Ag","l":1264,"r":1274,"t":760,"b":770},{"g":"Ag","l":1274,"r":1283,"t":760,"b":770},{"g":"Ag","l":1283,"r":1291,"t":760,"b":770},{"g":"Ag","l":1291,"r":1299,"t":760,"b":770},{"g":"Ag","l":1299,"r":1306,"t":760,"b":770},
{"g":"Ag","l":1243,"r":1254,"t":770,"b":779},{"g":"Ag","l":1254,"r":1264,"t":770,"b":779},{"g":"Ag","l":1264,"r":1274,"t":770,"b":779},{"g":"Ag","l":1274,"r":1283,"t":770,"b":779},{"g":"Ag","l":1283,"r":1291,"t":770,"b":779},{"g":"Ag","l":1291,"r":1299,"t":770,"b":779},{"g":"Ag","l":1299,"r":1306,"t":770,"b":779},
{"g":"Ag","l":1243,"r":1254,"t":779,"b":787},{"g":"Ag","l":1254,"r":1264,"t":779,"b":787},{"g":"Ag","l":1264,"r":1274,"t":779,"b":787},{"g":"Ag","l":1274,"r":1283,"t":779,"b":787},{"g":"Ag","l":1283,"r":1291,"t":779,"b":787},{"g":"Ag","l":1291,"r":1299,"t":779,"b":787},{"g":"Ag","l":1299,"r":1306,"t":779,"b":787},
{"g":"Ag","l":1243,"r":1254,"t":787,"b":794},{"g":"Ag","l":1254,"r":1264,"t":787,"b":794},{"g":"Ag","l":1264,"r":1274,"t":787,"b":794},{"g":"Ag","l":1274,"r":1283,"t":787,"b":794},{"g":"Ag","l":1283,"r":1291,"t":787,"b":794},{"g":"Ag","l":1291,"r":1299,"t":787,"b":794},{"g":"Ag","l":1299,"r":1306,"t":787,"b":794},
{"g":"Ag","l":1243,"r":1254,"t":794,"b":801},{"g":"Ag","l":1254,"r":1264,"t":794,"b":801},{"g":"Ag","l":1264,"r":1274,"t":794,"b":801},{"g":"Ag","l":1274,"r":1283,"t":794,"b":801},{"g":"Ag","l":1283,"r":1291,"t":794,"b":801},{"g":"Ag","l":1291,"r":1299,"t":794,"b":801},{"g":"Ag","l":1299,"r":1306,"t":794,"b":801},
{"g":"Mi","l":1141,"r":1224,"t":801,"b":884},
{"g":"Mi","l":1141,"r":1183,"t":884,"b":922},
{"g":"Mi","l":1141,"r":1183,"t":922,"b":940},
{"g":"Mi","l":1183,"r":1206,"t":884,"b":910},
{"g":"Mi","l":1206,"r":1224,"t":884,"b":910},
{"g":"Mi","l":1183,"r":1197,"t":910,"b":925},
{"g":"Mi","l":1183,"r":1197,"t":925,"b":940},
{"g":"Mi","l":1197,"r":1205,"t":910,"b":918},{"g":"Mi","l":1205,"r":1212,"t":910,"b":918},{"g":"Mi","l":1212,"r":1218,"t":910,"b":918},{"g":"Mi","l":1218,"r":1224,"t":910,"b":918},
{"g":"Mi","l":1197,"r":1205,"t":918,"b":925},{"g":"Mi","l":1205,"r":1212,"t":918,"b":925},{"g":"Mi","l":1212,"r":1218,"t":918,"b":925},{"g":"Mi","l":1218,"r":1224,"t":918,"b":925},
{"g":"Mi","l":1197,"r":1205,"t":925,"b":932},{"g":"Mi","l":1205,"r":1212,"t":925,"b":932},{"g":"Mi","l":1212,"r":1218,"t":925,"b":932},{"g":"Mi","l":1218,"r":1224,"t":925,"b":932},
{"g":"Mi","l":1197,"r":1205,"t":932,"b":940},{"g":"Mi","l":1205,"r":1212,"t":932,"b":940},{"g":"Mi","l":1212,"r":1218,"t":932,"b":940},{"g":"Mi","l":1218,"r":1224,"t":932,"b":940},
{"g":"Te","l":1224,"r":1255,"t":801,"b":836},
{"g":"Te","l":1255,"r":1284,"t":801,"b":836},
{"g":"Te","l":1284,"r":1306,"t":801,"b":836},
{"g":"Te","l":1224,"r":1249,"t":836,"b":864},
{"g":"Te","l":1249,"r":1270,"t":836,"b":864},
{"g":"Te","l":1270,"r":1292,"t":836,"b":864},
{"g":"Te","l":1292,"r":1306,"t":836,"b":864},
{"g":"Te","l":1224,"r":1245,"t":864,"b":884},
{"g":"Te","l":1245,"r":1262,"t":864,"b":884},
{"g":"Te","l":1262,"r":1278,"t":864,"b":884},
{"g":"Te","l":1278,"r":1292,"t":864,"b":884},
{"g":"Te","l":1292,"r":1306,"t":864,"b":884},
{"g":"Te","l":1224,"r":1245,"t":884,"b":904},
{"g":"Te","l":1224,"r":1245,"t":904,"b":922},
{"g":"Te","l":1224,"r":1245,"t":922,"b":940},
{"g":"Te","l":1245,"r":1259,"t":884,"b":898},
{"g":"Te","l":1259,"r":1272,"t":884,"b":898},
{"g":"Te","l":1272,"r":1284,"t":884,"b":898},
{"g":"Te","l":1284,"r":1295,"t":884,"b":898},
{"g":"Te","l":1295,"r":1306,"t":884,"b":898},
{"g":"Te","l":1245,"r":1255,"t":898,"b":908},{"g":"Te","l":1255,"r":1265,"t":898,"b":908},{"g":"Te","l":1265,"r":1274,"t":898,"b":908},{"g":"Te","l":1274,"r":1283,"t":898,"b":908},{"g":"Te","l":1283,"r":1291,"t":898,"b":908},{"g":"Te","l":1291,"r":1299,"t":898,"b":908},{"g":"Te","l":1299,"r":1306,"t":898,"b":908},
{"g":"Te","l":1245,"r":1255,"t":908,"b":917},{"g":"Te","l":1255,"r":1265,"t":908,"b":917},{"g":"Te","l":1265,"r":1274,"t":908,"b":917},{"g":"Te","l":1274,"r":1283,"t":908,"b":917},{"g":"Te","l":1283,"r":1291,"t":908,"b":917},{"g":"Te","l":1291,"r":1299,"t":908,"b":917},{"g":"Te","l":1299,"r":1306,"t":908,"b":917},
{"g":"Te","l":1245,"r":1255,"t":917,"b":925},{"g":"Te","l":1255,"r":1265,"t":917,"b":925},{"g":"Te","l":1265,"r":1274,"t":917,"b":925},{"g":"Te","l":1274,"r":1283,"t":917,"b":925},{"g":"Te","l":1283,"r":1291,"t":917,"b":925},{"g":"Te","l":1291,"r":1299,"t":917,"b":925},{"g":"Te","l":1299,"r":1306,"t":917,"b":925},
{"g":"Te","l":1245,"r":1255,"t":925,"b":933},{"g":"Te","l":1255,"r":1265,"t":925,"b":933},{"g":"Te","l":1265,"r":1274,"t":925,"b":933},{"g":"Te","l":1274,"r":1283,"t":925,"b":933},{"g":"Te","l":1283,"r":1291,"t":925,"b":933},{"g":"Te","l":1291,"r":1299,"t":925,"b":933},{"g":"Te","l":1299,"r":1306,"t":925,"b":933},
{"g":"Te","l":1245,"r":1255,"t":933,"b":940},{"g":"Te","l":1255,"r":1265,"t":933,"b":940},{"g":"Te","l":1265,"r":1274,"t":933,"b":940},{"g":"Te","l":1274,"r":1283,"t":933,"b":940},{"g":"Te","l":1283,"r":1291,"t":933,"b":940},{"g":"Te","l":1291,"r":1299,"t":933,"b":940},{"g":"Te","l":1299,"r":1306,"t":933,"b":940}
]
},
"layer":[
{"data":{"name":"leaves"},
 "mark":{"type":"rect","stroke":"white","strokeWidth":2},
 "encoding":{
  "x":{"field":"l","type":"quantitative","scale":{"domain":[37,1306],"nice":false,"zero":false},"axis":null},
  "x2":{"field":"r"},
  "y":{"field":"t","type":"quantitative","scale":{"domain":[86,940],"nice":false,"zero":false,"reverse":true},"axis":null},
  "y2":{"field":"b"},
  "color":{"field":"g","type":"nominal","legend":null,"scale":{"domain":["Ma","Ve","El","Se","Ch","Me","Ot","St","Ag","Mi","Te"],"range":["#C8588C","#B45AB8","#3D85C5","#C3635C","#1D9852","#8E8114","#876BC8","#609328","#B07235","#189B82","#1790AA"]}}
 }},
{"data":{"name":"groups"},
 "mark":{"type":"rect","fill":"white","fillOpacity":0,"stroke":"black","strokeWidth":5},
 "encoding":{
  "x":{"field":"l","type":"quantitative","scale":{"domain":[37,1306],"nice":false,"zero":false},"axis":null},
  "x2":{"field":"r"},
  "y":{"field":"t","type":"quantitative","scale":{"domain":[86,940],"nice":false,"zero":false,"reverse":true},"axis":null},
  "y2":{"field":"b"}
 }},
{"data":{"name":"groups"},
 "transform":[{"filter":{"field":"name","oneOf":["Machinery","Vehicles","Electronics","Services","Chemicals","Metals","Other","Stone"]}}],
 "mark":{"type":"text","font":"Liberation Sans","fontWeight":"bold","fontSize":37,"align":"center","baseline":"middle","color":"black"},
 "encoding":{
  "x":{"field":"cx","type":"quantitative","scale":{"domain":[37,1306],"nice":false,"zero":false},"axis":null},
  "y":{"field":"cy","type":"quantitative","scale":{"domain":[86,940],"nice":false,"zero":false,"reverse":true},"axis":null},
  "text":{"field":"name"}
 }},
{"data":{"name":"groups"},
 "transform":[{"filter":{"field":"name","oneOf":["Agriculture"]}}],
 "mark":{"type":"text","font":"Liberation Sans","fontWeight":"bold","fontSize":27,"align":"center","baseline":"middle","color":"black"},
 "encoding":{
  "x":{"field":"cx","type":"quantitative","scale":{"domain":[37,1306],"nice":false,"zero":false},"axis":null},
  "y":{"field":"cy","type":"quantitative","scale":{"domain":[86,940],"nice":false,"zero":false,"reverse":true},"axis":null},
  "text":{"field":"name"}
 }},
{"data":{"name":"groups"},
 "transform":[{"filter":{"field":"name","oneOf":["Minerals","Textiles"]}}],
 "mark":{"type":"text","font":"Liberation Sans","fontWeight":"bold","fontSize":18.5,"align":"center","baseline":"middle","color":"black"},
 "encoding":{
  "x":{"field":"cx","type":"quantitative","scale":{"domain":[37,1306],"nice":false,"zero":false},"axis":null},
  "y":{"field":"cy","type":"quantitative","scale":{"domain":[86,940],"nice":false,"zero":false,"reverse":true},"axis":null},
  "text":{"field":"name"}
 }}
]
}
